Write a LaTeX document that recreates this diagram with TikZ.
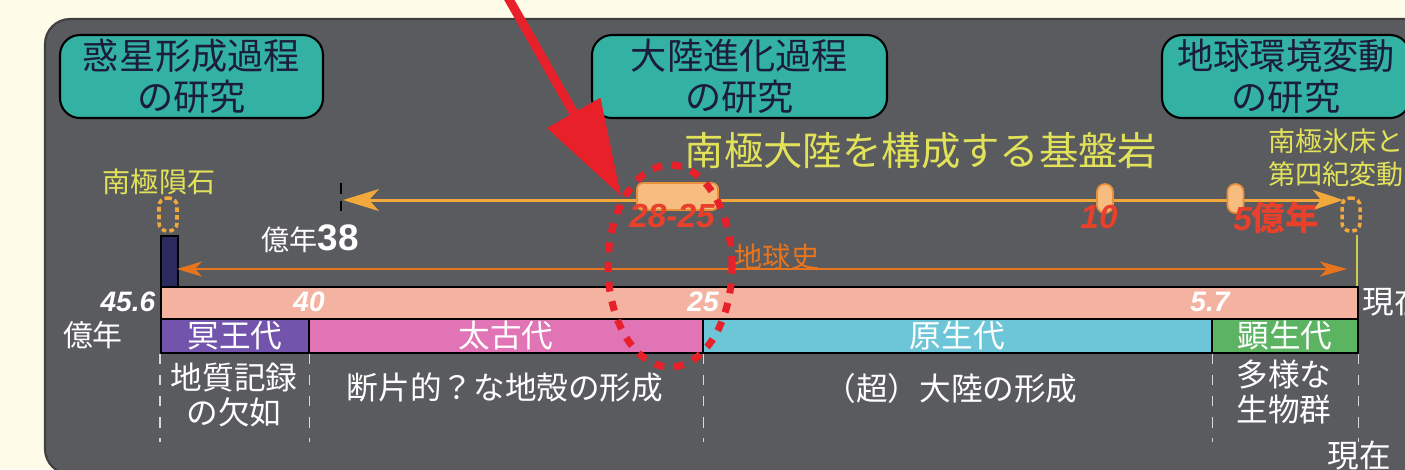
\documentclass[tikz,border=0pt]{standalone}
\usepackage{fontspec}
\setmainfont{Noto Sans CJK JP}
\newfontfamily\numfont{Liberation Sans}
\usetikzlibrary{arrows.meta,positioning,shapes.geometric}

\definecolor{cream}{HTML}{FFFBE9}
\definecolor{panel}{HTML}{5A5B5E}
\definecolor{teal0}{HTML}{33B2A4}
\definecolor{navytext}{HTML}{1C1C3C}
\definecolor{yellowtext}{HTML}{E2E25A}
\definecolor{lorange}{HTML}{F2A93B}
\definecolor{capfill}{HTML}{F6BC80}
\definecolor{capedge}{HTML}{E8903A}
\definecolor{rednum}{HTML}{E8402A}
\definecolor{dorange}{HTML}{E8741E}
\definecolor{salmon}{HTML}{F4B3A0}
\definecolor{eraA}{HTML}{7254AC}
\definecolor{eraB}{HTML}{E174B4}
\definecolor{eraC}{HTML}{6CC6D8}
\definecolor{eraD}{HTML}{5CB462}
\definecolor{navybar}{HTML}{2B2A5E}
\definecolor{alarm}{HTML}{E8202A}

\newcommand\fsz[2]{\fontsize{#1pt}{#2pt}\selectfont}

\begin{document}
\begin{tikzpicture}
[x=0.1mm, y=-0.1mm,
topic/.style={draw=black, line width=0.6pt, fill=teal0, rounded corners=2mm, align=center, text=navytext, font=\fsz{10.3}{11.7}, minimum height=8.3mm, inner sep=0pt},
era/.style={draw=black, line width=0.5pt, anchor=north west, minimum height=3.4mm, inner sep=0pt, text=white, font=\fsz{9}{9}},
note/.style={text=white, font=\fsz{9}{9.8}, align=center, inner sep=0pt},
yellownote/.style={text=yellowtext, inner sep=0pt},
agenum/.style={text=white, font=\numfont\bfseries\itshape\fsz{8}{8}, inner sep=0pt},
rednum/.style={text=rednum, font=\numfont\bfseries\itshape\fsz{9.5}{9.5}, inner sep=0pt},
capsule/.style={draw=capedge, fill=capfill, line width=0.5pt, inner sep=0pt},
sample/.style={draw=lorange, dash pattern=on 1.3pt off 0.9pt, line width=1pt, rounded corners=0.8mm, minimum width=1.8mm, minimum height=3.3mm, inner sep=0pt},
tick/.style={white!85!black, dashed, line width=0.4pt}]

\useasboundingbox (0,0) rectangle (1405,469);
\clip (0,0) rectangle (1405,469);
\fill[cream] (0,0) rectangle (1405,469);
\filldraw[fill=panel, draw=black!75, line width=0.6pt, rounded corners=2.5mm] (45,19) rectangle (1460,474);

% research topics
\node[topic, minimum width=26.3mm] (planet) at (191.5,76.5) {惑星形成過程\\の研究};
\node[topic, minimum width=29.5mm] (continent) at (739.5,76.5) {大陸進化過程\\の研究};
\node[topic, minimum width=24.8mm] (climate) at (1286,76.5) {地球環境変動\\の研究};

\node[yellownote, font=\fsz{11.2}{11.2}] (basement) at (921,151) {南極大陸を構成する基盤岩};
\node[yellownote, font=\fsz{8}{8}] (meteorite) at (159,182) {南極隕石};
\node[yellownote, font=\fsz{7.7}{9.4}, align=left, anchor=west] (icesheet) at (1268,158) {南極氷床と\\第四紀変動};

\node[sample] (met) at (168,214.5) {};
\node[sample] (ice) at (1351,214.5) {};

% basement rock ages
\draw[black, densely dashed, line width=0.4pt] (341,183) -- (341,216);
\coordinate (rockL) at (343,200);
\coordinate (rockR) at (1343,200);
\draw[lorange, line width=0.85pt, {Stealth[length=3.6mm,width=2.2mm,inset=1mm]}-{Stealth[length=3mm,width=2mm,inset=0.8mm]}] (rockL) -- (rockR);

\node[capsule, minimum width=8.1mm, minimum height=2.7mm, rounded corners=0.6mm] (c28) at (677.5,196.5) {};
\node[capsule, minimum width=1.6mm, minimum height=2.9mm, rounded corners=0.8mm] (c10) at (1105,198.5) {};
\node[capsule, minimum width=1.6mm, minimum height=2.9mm, rounded corners=0.8mm] (c5) at (1235.5,198.5) {};

\node[rednum] (n28) at (672,216) {28-25};
\node[rednum] (n10) at (1099,217) {10};
\node[rednum] (n5) at (1276,218) {5{\normalfont\bfseries\upshape 億年}};
\node[text=white, inner sep=0pt] (n38) at (310,239) {\fsz{8}{8}億年{\numfont\bfseries\fsz{10.5}{10.5}38}};

% earth history
\node[draw=black, fill=navybar, line width=0.5pt, minimum width=1.7mm, minimum height=5.1mm, anchor=north west, inner sep=0pt] (origin) at (160,235) {};
\draw[yellowtext!90!black, line width=0.6pt] (1357,235) -- (1357,286);
\coordinate (histL) at (177,269);
\coordinate (histR) at (1347,269);
\draw[dorange, line width=0.6pt, {Stealth[length=2.5mm,width=1.5mm,inset=0.7mm]}-{Stealth[length=2.7mm,width=1.5mm,inset=0.7mm]}] (histL) -- (histR);
\node[text=dorange, font=\fsz{8}{8}, inner sep=0pt] (history) at (777,257) {地球史};

\node[draw=black, fill=salmon, line width=0.5pt, minimum width=119.7mm, minimum height=3.2mm, anchor=north west, inner sep=0pt] (scalebar) at (160,286) {};

\node[era, fill=eraA, minimum width=14.8mm] (hadean) at (160,318) {冥王代};
\node[era, fill=eraB, minimum width=39.4mm] (archean) at (308,318) {太古代};
\node[era, fill=eraC, minimum width=50.9mm] (proter) at (702,318) {原生代};
\node[era, fill=eraD, minimum width=14.6mm] (phaner) at (1211,318) {顕生代};

\node[agenum, anchor=east] (a456) at (156,302) {45.6};
\node[agenum] (a40) at (309,302) {40};
\node[agenum] (a25) at (703,302) {25};
\node[agenum] (a57) at (1210,302) {5.7};

\node[note, font=\fsz{8.5}{8.5}] (unit) at (93,335) {億年};
\node[note, anchor=west] (nowtop) at (1362,302) {現在};
\node[note] (nowbot) at (1359,456) {現在};

\foreach \a in {hadean.south west, hadean.south east, archean.south east, proter.south east, phaner.south east}
  \draw[tick] (\a) -- ++(0,88);

\node[note] (lost) at (234,395) {地質記録\\の欠如};
\node[note] (crust) at (505,388) {断片的？な地殻の形成};
\node[note] (super) at (951,388) {（超）大陸の形成};
\node[note] (life) at (1284,392) {多様な\\生物群};

% highlight
\node[ellipse, draw=alarm, line width=2pt, dash pattern=on 2.8pt off 2.8pt, minimum width=12.4mm, minimum height=20.2mm, inner sep=0pt] (focus) at (670,266) {};
\coordinate (ptr) at (498,-20);
\draw[alarm, line width=0.9mm, -{Triangle[length=9.6mm,width=5.9mm]}] (ptr) -- (focus.125);
\end{tikzpicture}
\end{document}
